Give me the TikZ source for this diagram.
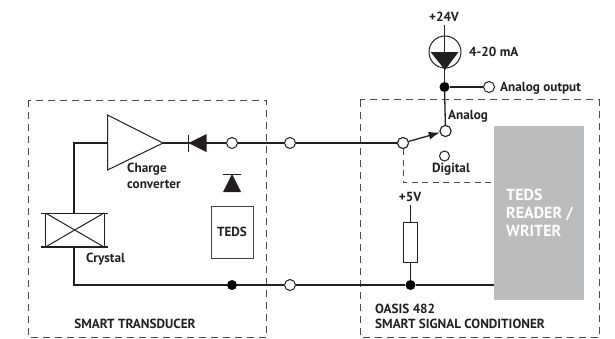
\documentclass[tikz,border=0pt]{standalone}
\usepackage{fontspec}
\setmainfont{PT Sans}[BoldFont={PT Sans Bold}]
\usetikzlibrary{arrows.meta}
\definecolor{ink}{HTML}{231F20}
\definecolor{greybox}{HTML}{BBBCBE}
\tikzset{
  x=1pt,y=-1pt,
  wire/.style={draw=ink,line width=1.3pt},
  thin wire/.style={draw=ink,line width=1pt},
  frame/.style={draw=ink!80,line width=1pt,dash pattern=on 7pt off 5pt},
  opendot/.style={circle,draw=ink,fill=white,line width=1pt,minimum size=11pt,inner sep=0pt},
  soliddot/.style={circle,fill=black,minimum size=10pt,inner sep=0pt},
  lbl/.style={font=\bfseries\fontsize{13.2}{15}\selectfont,text=ink,inner sep=0pt},
  lbll/.style={lbl,anchor=west},
}
\begin{document}
\begin{tikzpicture}
\useasboundingbox (0,0) rectangle (615,338);
% frames
\draw[frame] (28,100) rectangle (266.5,337);
\draw[frame] (360,99.5) rectangle (599,337);
% grey reader box
\node[fill=greybox,minimum width=90pt,minimum height=174pt,inner sep=0pt] (reader) at (539,213) {};
\node[lbll,text=white,align=left,font=\bfseries\fontsize{16}{18}\selectfont] (readerlbl) at (506,213) {TEDS\\READER /\\WRITER};
% named points
\node[opendot] (t1) at (232,143) {};
\node[opendot] (c1) at (290,143) {};
\node[opendot] (sw) at (403,143) {};
\node[opendot] (an) at (445.5,131) {};
\node[opendot,minimum size=10pt] (dg) at (444.5,156) {};
\node[opendot] (c2) at (290,285) {};
\node[soliddot] (d1) at (232,285) {};
\node[soliddot] (d2) at (410.5,285) {};
\node[soliddot] (d3) at (444.5,87) {};
\node[opendot] (ao) at (489,87) {};
\coordinate (amptip) at (163,143);
\coordinate (ampin) at (107.5,143);
\coordinate (corner1) at (74,143);
\coordinate (corner2) at (74,285);
\coordinate (xtop) at (74,213);
\coordinate (xbot) at (74,247);
\coordinate (top24) at (444.5,25);
\coordinate (rtop) at (410.5,205);
% wires
\draw[wire] (xtop) -- (corner1) -- (ampin);
\draw[wire] (xbot) -- (corner2) -- (d1);
\draw[wire] (d1) -- (c2);
\draw[wire] (c2) -- (d2);
\draw[wire] (d2) -- (reader.west |- d2);
\draw[wire] (amptip) -- (t1);
\draw[wire] (t1) -- (c1);
\draw[wire] (c1) -- (sw);
\draw[wire] (top24) -- (d3);
\draw[wire] (d3) -- (an);
\draw[wire] (d3) -- (ao);
\draw[wire] (rtop) -- (d2);
% control dashed line
\draw[frame,dash pattern=on 6pt off 4.5pt] (sw.south) -- (403,182.5) -- (reader.west |- 0,182.5);
% switch arm
\draw[wire,-{Latex[length=11pt,width=8pt]}] (sw) -- (an);
\node[opendot] at (sw) {};
\node[opendot] at (an) {};
% amplifier
\draw[thin wire,fill=white,line join=miter] (107.5,115) -- (163,143) -- (107.5,170) -- cycle;
% crystal
\draw[thin wire,fill=white] (45.5,213) rectangle (104,247);
\draw[thin wire] (45.5,213) -- (104,247) (45.5,247) -- (104,213);
\draw[thin wire] (41,213) -- (108,213);
\draw[wire,line width=1.6pt] (41,247) -- (108,247);
% diode 1
\fill[ink] (188.5,143) -- (206.5,134) -- (206.5,152) -- cycle;
\draw[thin wire] (188,134.5) -- (188,151.5);
% diode 2
\fill[ink] (232,174) -- (223,192) -- (241,192) -- cycle;
\draw[thin wire] (223,174) -- (240.5,174);
% TEDS
\node[draw=ink!85,line width=1pt,minimum width=42pt,minimum height=52pt,inner sep=0pt,lbl] (teds) at (232,232) {TEDS};
% resistor
\node[draw=ink,fill=white,line width=1pt,minimum width=14pt,minimum height=40pt,inner sep=0pt] (res) at (410.5,242) {};
% current source
\node[circle,draw=ink,line width=1pt,minimum size=32pt,inner sep=0pt] (src) at (445,52) {};
\fill[ink] (430.5,52) -- (458.5,52) -- (445,70) -- cycle;
% labels
\node[lbll] (l1) at (127,169) {Charge};
\node[lbll] (l2) at (127,184) {converter};
\node[lbll] (l3) at (86,259) {Crystal};
\node[lbl] (l4) at (135,324) {SMART TRANSDUCER};
\node[lbl] (l5) at (444,17) {+24V};
\node[lbll] (l6) at (469,52) {4-20 mA};
\node[lbll] (l7) at (500,88) {Analog output};
\node[lbll] (l8) at (448,116) {Analog};
\node[lbl] (l9) at (451,169) {Digital};
\node[lbl] (l10) at (410,197) {+5V};
\node[lbll] (l11) at (375,309) {OASIS 482};
\node[lbll] (l12) at (375,324) {SMART SIGNAL CONDITIONER};
\end{tikzpicture}
\end{document}
